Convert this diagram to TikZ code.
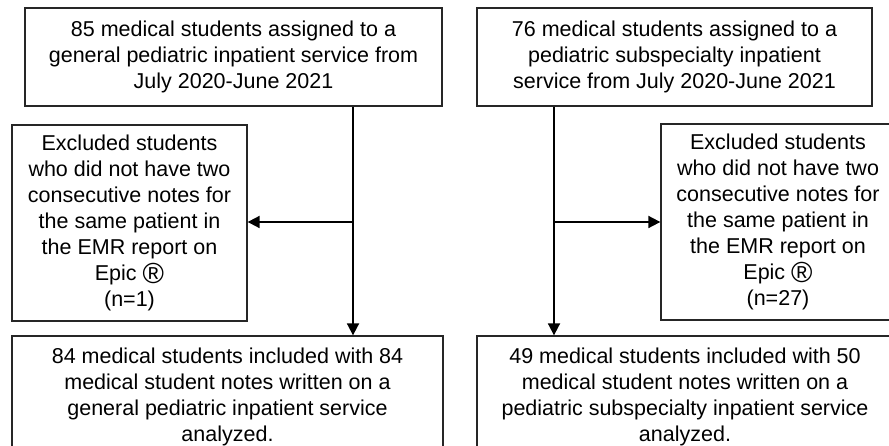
\documentclass[tikz,border=0pt]{standalone}
\usepackage{fontspec}
\setmainfont{Liberation Sans}
\usetikzlibrary{arrows.meta}
\newcommand{\regmark}{\raisebox{-0.22ex}{\scalebox{1.35}{®}}}
\begin{document}
\begin{tikzpicture}[x=1pt,y=-1pt,
  box/.style={draw=black!85, line width=1.3pt, rectangle, align=center, inner sep=0pt,
    font=\fontsize{21.5}{26}\selectfont},
  arr/.style={draw=black, line width=1.8pt, -{Triangle[width=12pt,length=12pt]}},
  lin/.style={draw=black, line width=1.8pt}]
\clip (0,0) rectangle (889,446);
\node[box, minimum width=417pt, minimum height=98pt] (A) at (233.5,57)
  {85 medical students assigned to a\\general pediatric inpatient service from\\July 2020-June 2021};
\node[box, minimum width=395pt, minimum height=98pt] (B) at (674.5,57)
  {76 medical students assigned to a\\pediatric subspecialty inpatient\\service from July 2020-June 2021};
\node[box, minimum width=235pt, minimum height=196pt] (C) at (129.5,223)
  {Excluded students\\who did not have two\\consecutive notes for\\the same patient in\\the EMR report on\\Epic \regmark\\(n=1)};
\node[box, minimum width=234pt, minimum height=196pt] (D) at (778,222)
  {Excluded students\\who did not have two\\consecutive notes for\\the same patient in\\the EMR report on\\Epic \regmark\\(n=27)};
\node[box, minimum width=431pt, minimum height=121pt] (E) at (227.5,396.5)
  {84 medical students included with 84\\medical student notes written on a\\general pediatric inpatient service\\analyzed.};
\node[box, minimum width=416pt, minimum height=121pt] (F) at (685,396.5)
  {49 medical students included with 50\\medical student notes written on a\\pediatric subspecialty inpatient service\\analyzed.};
\coordinate (jl) at (353,222);
\coordinate (jr) at (554,222);
\draw[arr] (A.south -| jl) -- (E.north -| jl);
\draw[arr] (jl) -- (C.east |- jl);
\draw[arr] (B.south -| jr) -- (F.north -| jr);
\draw[arr] (jr) -- (D.west |- jr);
\end{tikzpicture}
\end{document}
